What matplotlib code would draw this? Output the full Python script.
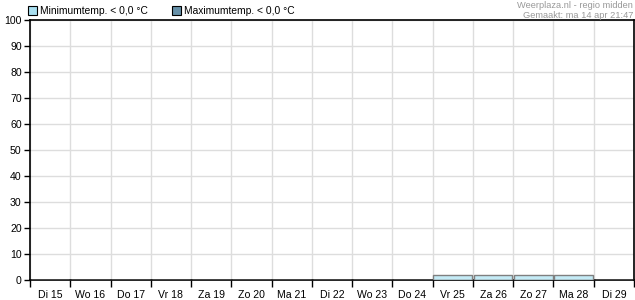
import matplotlib.pyplot as plt
from matplotlib.patches import Rectangle
import numpy as np

plt.rcParams['font.family'] = ['Liberation Sans', 'DejaVu Sans']

days = ["Di 15", "Wo 16", "Do 17", "Vr 18", "Za 19", "Zo 20", "Ma 21", "Di 22",
        "Wo 23", "Do 24", "Vr 25", "Za 26", "Zo 27", "Ma 28", "Di 29"]
min_below_zero = [0, 0, 0, 0, 0, 0, 0, 0, 0, 0, 2, 2, 2, 2, 0]
max_below_zero = [0, 0, 0, 0, 0, 0, 0, 0, 0, 0, 0, 0, 0, 0, 0]

W, H = 635, 300
fig = plt.figure(figsize=(W / 100, H / 100), dpi=100)
# plot area in pixels: left 30, right 634, top 20, bottom 280
ax = fig.add_axes([30 / W, 1 - 280 / H, 604 / W, 260 / H])

x = np.arange(len(days))
ax.bar(x, min_below_zero, width=0.96, color="#c4ebf6", edgecolor="#7f7f7f",
       linewidth=1, zorder=3)
ax.bar(x, max_below_zero, width=0.96, color="#6690a8", edgecolor="#7f7f7f",
       linewidth=1, zorder=3)

ax.set_xlim(-0.5, len(days) - 0.5)
ax.set_ylim(0, 100)

ax.set_xticks(np.arange(-0.5, len(days)), minor=False)
ax.set_xticklabels([])
ax.set_xticks(x, minor=True)
ax.set_xticklabels(days, minor=True)
ax.tick_params(axis="x", which="major", length=5, width=1, color="black", direction="out")
ax.tick_params(axis="x", which="minor", length=0, pad=7, labelsize=7.6)

ax.set_yticks(np.arange(0, 101, 10))
ax.tick_params(axis="y", length=4, width=1, pad=2, labelsize=7.6)

ax.grid(True, which="major", color="#dddddd", linewidth=1, zorder=0)
ax.set_axisbelow(True)
for s in ax.spines.values():
    s.set_linewidth(1.2)
    s.set_color("black")

# legend drawn by hand at the top
def legend_box(px, label, color):
    fig.add_artist(Rectangle((px / W, 1 - 15 / H), 9 / W, 9 / H,
                             transform=fig.transFigure, facecolor=color,
                             edgecolor="black", linewidth=0.8))
    fig.text((px + 12) / W, 1 - 11 / H, label, fontsize=7.4, va="center", ha="left")

legend_box(28, "Minimumtemp. < 0,0 °C", "#a9dff0")
legend_box(172, "Maximumtemp. < 0,0 °C", "#6690a8")

fig.text(633 / W, 1 - 5 / H, "Weerplaza.nl - regio midden", fontsize=6.7,
         color="#999999", ha="right", va="center")
fig.text(633 / W, 1 - 15 / H, "Gemaakt: ma 14 apr 21:47", fontsize=6.7,
         color="#999999", ha="right", va="center")

fig.savefig("out.png", dpi=100)
